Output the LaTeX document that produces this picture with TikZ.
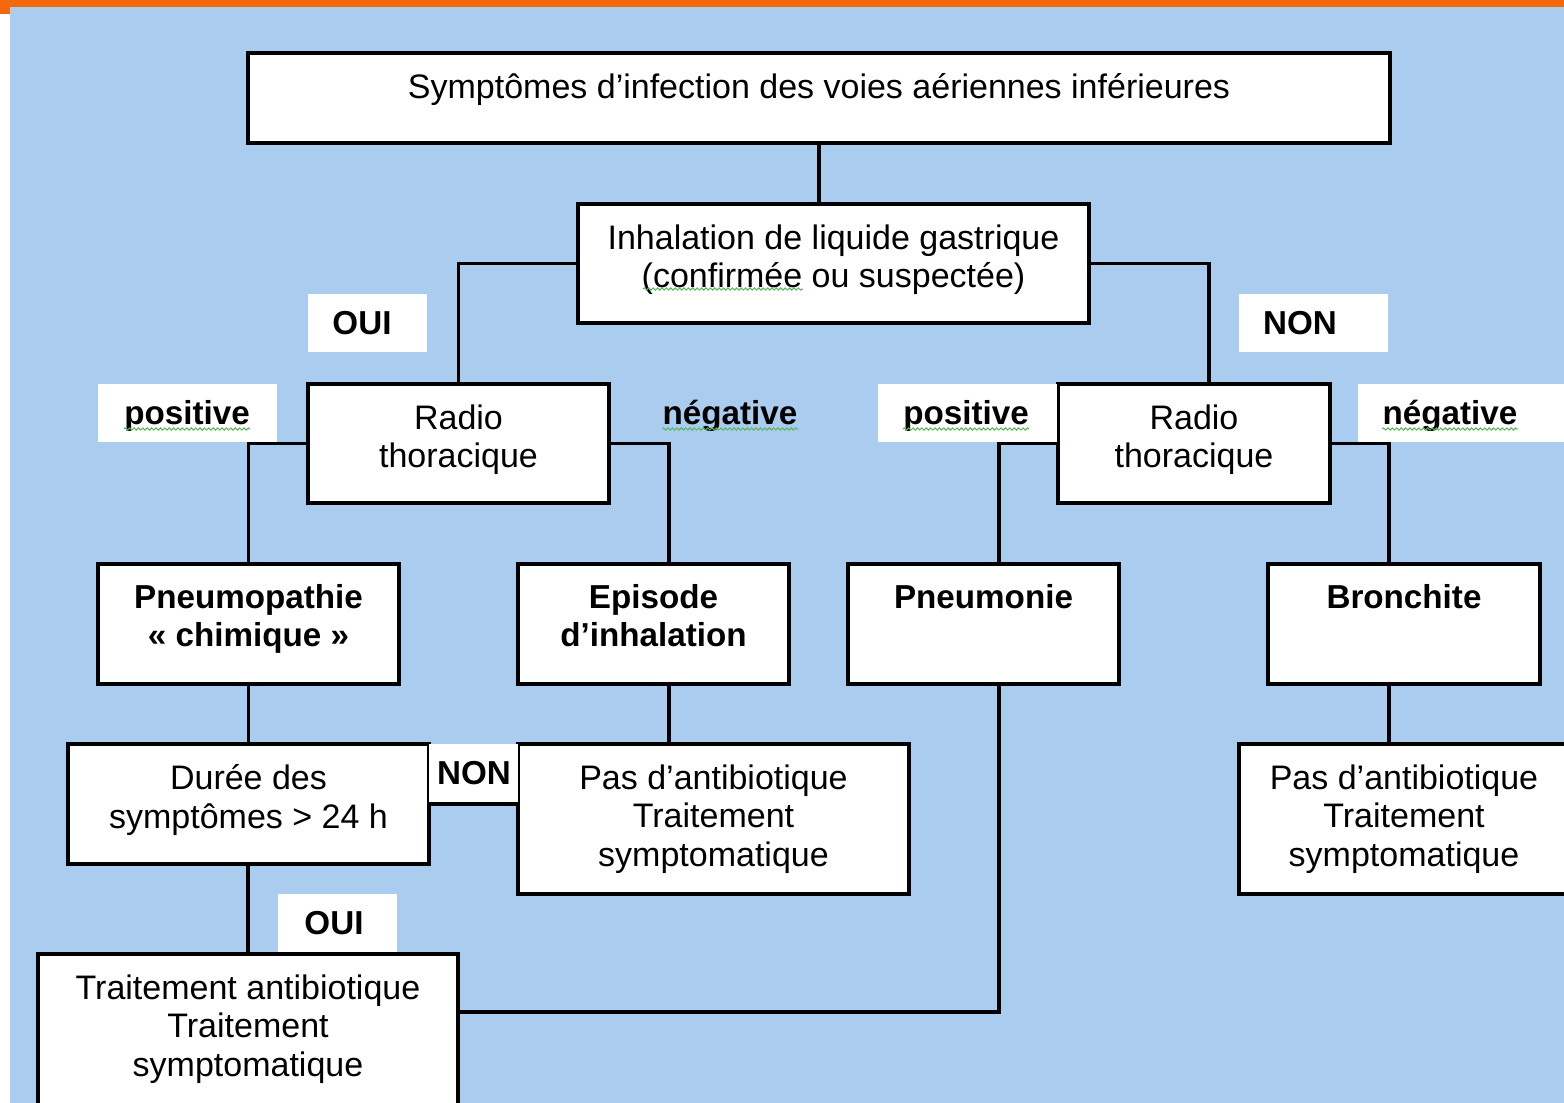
\documentclass[tikz,border=0pt]{standalone}
\usepackage{fontspec}
\setmainfont{Liberation Sans}
\usetikzlibrary{decorations.pathmorphing}
\definecolor{bg}{RGB}{170,204,239}
\definecolor{orng}{RGB}{244,104,12}
\definecolor{spellgreen}{RGB}{90,180,90}
\tikzset{
  box/.style={draw=black, line width=2pt, fill=white, inner sep=0pt},
  tag/.style={fill=white, inner sep=0pt},
  txt/.style={inner sep=0pt, align=center, font=\fontsize{17}{19.4}\selectfont},
  btxt/.style={inner sep=0pt, align=center, font=\fontsize{16.6}{19.25}\selectfont\bfseries},
  link/.style={draw=black, line width=1.9pt},
  spell/.style={draw=spellgreen, line width=0.5pt, decorate, decoration={snake, amplitude=0.55pt, segment length=2.2pt}}
}
\newcommand\mkbox[7]{%
  \pgfmathsetmacro\bw{(#4-#2)*0.5}%
  \pgfmathsetmacro\bh{(#5-#3)*0.5}%
  \node[box, minimum width=\bw pt, minimum height=\bh pt] (#1) at ({(#2+#4)/2},{(#3+#5)/2}) {};
  \node[#6, anchor=north] (#1-t) at ({(#2+#4)/2},{#3+20}) {#7};}
\newcommand\mktag[7]{%
  \pgfmathsetmacro\bw{(#4-#2)*0.5}%
  \pgfmathsetmacro\bh{(#5-#3)*0.5}%
  \node[tag, minimum width=\bw pt, minimum height=\bh pt] (#1) at ({(#2+#4)/2},{(#3+#5)/2}) {};
  \node[btxt, anchor=base] (#1-t) at (#6,{(#3+#5)/2+11}) {#7};}
\begin{document}
\begin{tikzpicture}[x=0.5pt,y=-0.5pt]
\useasboundingbox (0,0) rectangle (1564,1103);
\clip (0,0) rectangle (1564,1103);
\fill[white] (0,0) rectangle (1564,1103);
\fill[bg] (10,7) rectangle (1564,1103);
\fill[orng] (0,0) rectangle (1564,7);
\fill[orng] (0,0) rectangle (10,14);

% boxes
\mkbox{top}{248}{53}{1390}{143}{txt}{Symptômes d’infection des voies aériennes inférieures}
\mkbox{inh}{578}{204}{1089}{323}{txt}{Inhalation de liquide gastrique\\(confirmée ou suspectée)}
\mkbox{radL}{308}{384}{609}{503}{txt}{Radio\\thoracique}
\mkbox{radR}{1058}{384}{1330}{503}{txt}{Radio\\thoracique}
\mkbox{pneumo}{98}{564}{399}{684}{btxt}{Pneumopathie\\« chimique »}
\mkbox{episode}{518}{564}{789}{684}{btxt}{Episode\\d’inhalation}
\mkbox{pneumonie}{848}{564}{1119}{684}{btxt}{Pneumonie}
\mkbox{bronch}{1268}{564}{1540}{684}{btxt}{Bronchite}
\mkbox{duree}{68}{744}{429}{864}{txt}{Durée des\\symptômes > 24 h}
\mkbox{pasL}{518}{744}{909}{894}{txt}{Pas d’antibiotique\\Traitement\\symptomatique}
\mkbox{pasR}{1239}{744}{1569}{894}{txt}{Pas d’antibiotique\\Traitement\\symptomatique}
\mkbox{trait}{38}{954}{458}{1124}{txt}{Traitement antibiotique\\Traitement\\symptomatique}

% tags
\mktag{oui1}{308}{294}{427}{352}{362}{OUI}
\mktag{non1}{1239}{294}{1388}{352}{1300}{NON}
\mktag{pos1}{98}{384}{277}{442}{187}{positive}
\mktag{pos2}{878}{384}{1057}{442}{966}{positive}
\mktag{neg2}{1358}{384}{1580}{442}{1450}{négative}
\mktag{non2}{429}{744}{518}{802}{474}{NON}
\mktag{oui2}{278}{894}{397}{952}{334}{OUI}
\node[btxt, anchor=base] (neg1) at (730,424) {négative};

% spell-check squiggles
\draw[spell] ([yshift=-2.5pt]pos1-t.base west) -- ([yshift=-2.5pt]pos1-t.base east);
\draw[spell] ([yshift=-2.5pt]pos2-t.base west) -- ([yshift=-2.5pt]pos2-t.base east);
\draw[spell] ([yshift=-2.5pt]neg1.base west) -- ([yshift=-2.5pt]neg1.base east);
\draw[spell] ([yshift=-2.5pt]neg2-t.base west) -- ([yshift=-2.5pt]neg2-t.base east);
\draw[spell] (643,289) -- (803,289);

% connectors
\draw[link] (top.south) -- (top.south |- inh.north);
\draw[link] (inh.west) -| (radL.north);
\draw[link] (inh.east) -| ([xshift=7.5pt]radR.north);
\draw[link] (radL.west) -| (pneumo.north);
\draw[link] (radL.east) -| ([xshift=7.75pt]episode.north);
\draw[link] (radR.west) -| ([xshift=7.75pt]pneumonie.north);
\draw[link] (radR.east) -| ([xshift=-7.5pt]bronch.north);
\draw[link] (pneumo.south) -- (pneumo.south |- duree.north);
\draw[link] ([xshift=7.75pt]episode.south) -- ([xshift=7.75pt]episode.south |- pasL.north);
\draw[link] (duree.east) -- (duree.east -| pasL.west);
\draw[link] ([xshift=-7.5pt]bronch.south) -- ([xshift=-7.5pt]bronch.south |- pasR.north);
\draw[link] (trait.north |- duree.south) -- (trait.north);
\draw[link] ([xshift=7.75pt]pneumonie.south) |- ([yshift=-30pt]trait.north east);
\end{tikzpicture}
\end{document}
